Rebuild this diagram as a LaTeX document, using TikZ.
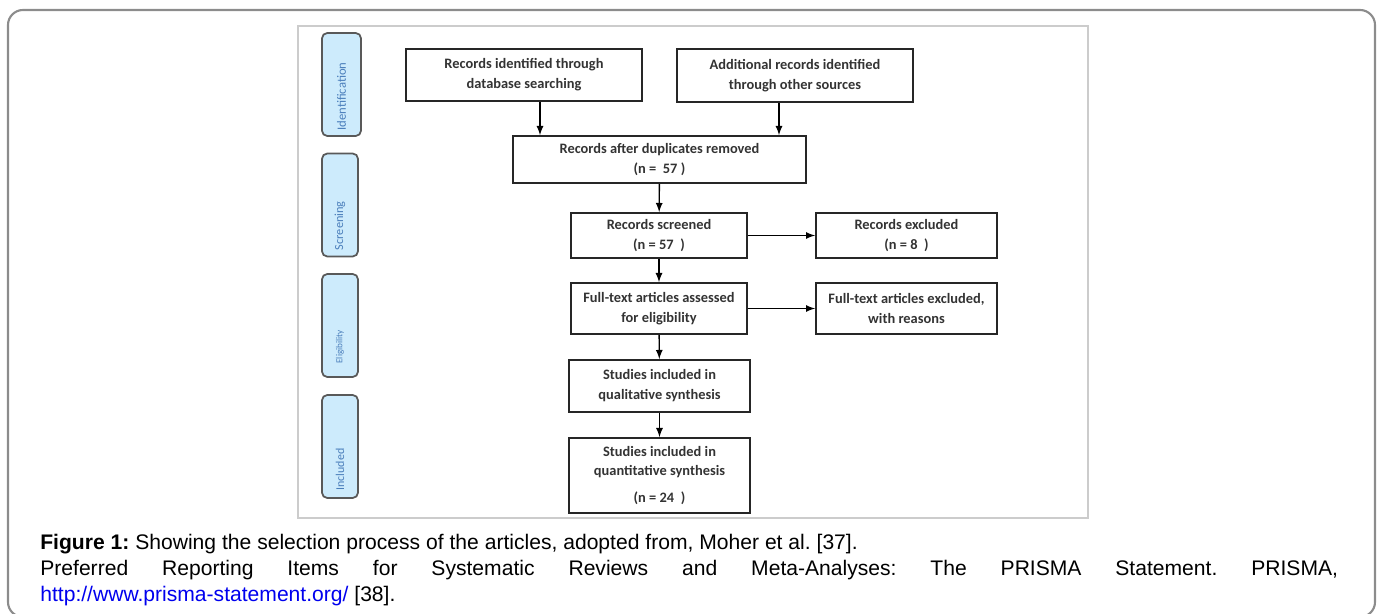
\documentclass[tikz,border=0pt]{standalone}
\usepackage{fontspec}
\setmainfont{Liberation Sans}
\newfontfamily\boxfont{Carlito}
\usetikzlibrary{arrows}
\definecolor{sidefill}{HTML}{CDEBFC}
\definecolor{sidetext}{HTML}{4A7EBB}
\definecolor{linkblue}{HTML}{0000EE}
\frenchspacing

\begin{document}
\begin{tikzpicture}[x=0.02cm, y=-0.02cm,
  box/.style={draw=black!85, line width=1pt, align=center, inner sep=0pt,
    text=black!80, font=\boxfont\bfseries\fontsize{8.2}{11.3}\selectfont},
  side/.style={draw=black!65, line width=1pt, fill=sidefill, rounded corners=3pt,
    minimum width=0.72cm, minimum height=2.06cm},
  sidelabel/.style={rotate=90, anchor=west, inner sep=0pt, text=sidetext},
  arr/.style={line width=0.8pt, -latex}]
\useasboundingbox (0,0) rectangle (1380,614);
\draw [gray!90, line width=1.2pt, rounded corners=0.3cm] (8,10) rectangle (1375,617);
\draw [black!20, line width=0.6pt] (298,26) rectangle (1088,518);

\node [side, minimum width=0.78cm] (ident) at (341.5,84.5) {};
\node [side] (screen) at (340,205) {};
\node [side] (elig) at (340,325.5) {};
\node [side] (incl) at (340,446.5) {};
\node [sidelabel, font=\boxfont\fontsize{7.2}{8}\selectfont] at ([yshift=0.12cm]ident.south) {Identification};
\node [sidelabel, font=\boxfont\fontsize{7}{8}\selectfont] at ([yshift=0.14cm]screen.south) {Screening};
\node [sidelabel, font=\boxfont\fontsize{5.2}{6}\selectfont] at ([yshift=0.28cm]elig.south) {Eligibility};
\node [sidelabel, font=\boxfont\fontsize{6.8}{8}\selectfont] at ([yshift=0.16cm]incl.south) {Included};

\node [box, minimum width=4.72cm, minimum height=1.04cm] (dbsearch) at (524,75) {Records identified through\\database searching};
\node [box, minimum width=4.72cm, minimum height=1.06cm] (othersrc) at (795,75.5) {Additional records identified\\through other sources};
\node [box, minimum width=5.86cm, minimum height=0.94cm] (dedup) at (659.5,159.5) {Records after duplicates removed\\(n =\ \ 57 )};
\node [box, minimum width=3.52cm, minimum height=0.9cm] (screened) at (659,235.5) {Records screened\\(n = 57\ \ )};
\node [box, minimum width=3.62cm, minimum height=0.9cm] (excluded) at (906.5,235.5) {Records excluded\\(n = 8\ \ )};
\node [box, minimum width=3.52cm, minimum height=1.02cm] (fulltext) at (659,308.5) {Full-text articles assessed\\for eligibility};
\node [box, minimum width=3.62cm, minimum height=1.02cm] (ftexcl) at (906.5,308.5) {Full-text articles excluded,\\with reasons};
\node [box, minimum width=3.62cm, minimum height=1.04cm] (qualit) at (659.5,386) {Studies included in\\qualitative synthesis};
\node [box, minimum width=3.62cm, minimum height=1.5cm] (quantit) at (659.5,475.5) {Studies included in\\quantitative synthesis\\[4pt](n = 24\ \ )};

\draw [arr] ([xshift=0.32cm]dbsearch.south) -- ([xshift=0.32cm]dbsearch.south |- dedup.north);
\draw [arr] ([xshift=-0.32cm]othersrc.south) -- ([xshift=-0.32cm]othersrc.south |- dedup.north);
\draw [arr] (dedup) -- (screened);
\draw [arr] (screened) -- (excluded);
\draw [arr] (screened) -- (fulltext);
\draw [arr] (fulltext) -- (ftexcl);
\draw [arr] (fulltext) -- (qualit);
\draw [arr] (qualit) -- (quantit);

\node [anchor=north west, inner sep=0pt, text width=25.96cm, align=justify,
  font=\fontsize{12}{14.8}\selectfont] (caption) at (40,534)
  {\spaceskip=0.28em plus 20em\relax
   \textbf{Figure 1:} Showing the selection process of the articles, adopted from, Moher et al. [37].\\
   Preferred Reporting Items for Systematic Reviews and Meta-Analyses: The PRISMA Statement. PRISMA,\linebreak
   {\color{linkblue}http://www.prisma-statement.org/} [38].};
\end{tikzpicture}
\end{document}
